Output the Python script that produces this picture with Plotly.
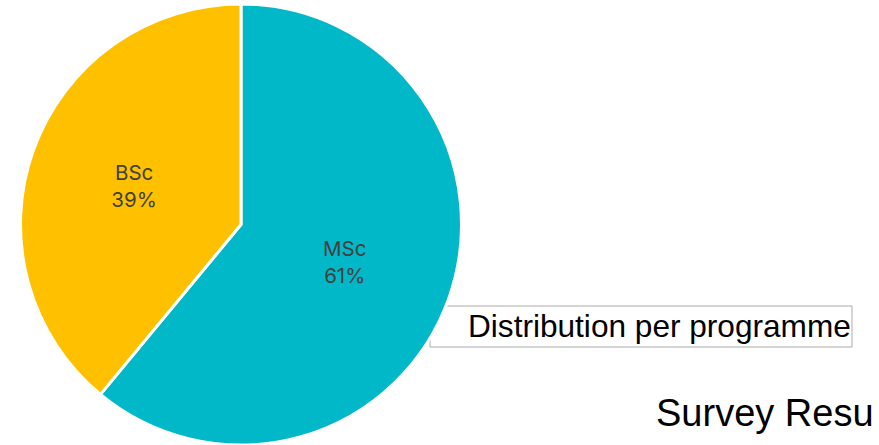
import plotly.graph_objects as go

labels = ["MSc", "BSc"]
values = [61, 39]
colors = ["#00B8C8", "#FFC000"]

W, H = 879, 445

def px(x):
    return x / W

def py(y):
    return 1 - y / H

fig = go.Figure()
fig.add_trace(go.Pie(
    labels=labels,
    values=values,
    sort=False,
    direction="clockwise",
    rotation=0,
    marker=dict(colors=colors, line=dict(color="white", width=3)),
    textposition="inside",
    insidetextorientation="horizontal",
    texttemplate="%{label}<br>%{percent:.0%}",
    textfont=dict(family="Inter, Roboto, sans-serif", size=20.5, color="#404040"),
    domain=dict(x=[px(20), px(462)], y=[0, py(4)]),
    hoverinfo="skip",
    showlegend=False,
))

fig.add_shape(type="rect", xref="paper", yref="paper",
              x0=px(430), x1=px(852), y0=py(347), y1=py(306),
              line=dict(color="#ABABAB", width=1), layer="below")

fig.add_annotation(text="Distribution per programme", xref="paper", yref="paper",
                   x=px(466), y=py(326), xanchor="left", yanchor="middle",
                   showarrow=False,
                   font=dict(family="Liberation Sans, Arial, sans-serif", size=31.6, color="#000000"))

fig.add_annotation(text="Survey Resu", xref="paper", yref="paper",
                   x=px(654), y=py(413), xanchor="left", yanchor="middle",
                   showarrow=False,
                   font=dict(family="Liberation Sans, Arial, sans-serif", size=38, color="#000000"))

fig.update_layout(
    width=W, height=H,
    margin=dict(l=0, r=0, t=0, b=0),
    paper_bgcolor="white",
    plot_bgcolor="white",
)

fig.write_html("out.html", config={"displayModeBar": False},
               post_script="document.body.style.margin='0';")
